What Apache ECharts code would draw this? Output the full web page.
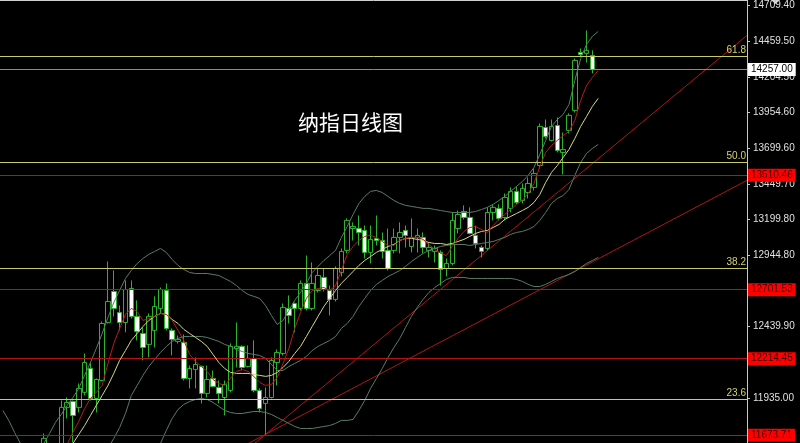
<!DOCTYPE html>
<html><head><meta charset="utf-8">
<script src="https://cdn.jsdelivr.net/npm/echarts@6/dist/echarts.min.js"></script>
<style>html,body{margin:0;padding:0;background:#000;}#c{width:800px;height:443px;}</style>
</head><body><div id="c"></div><script>
// ---- data ----
const titleText = '纳指日线图';
const slotCount = 128;
const yMin = 11618.4, yMax = 14748.2;
const yTicks = [14709.40, 14459.50, 14204.50, 13954.60, 13699.60, 13449.70, 13199.80, 12944.80, 12689.90, 12439.90, 12190.00, 11935.00];

const candleStart = 7; // [open, close, low, high]
const ohlc = [
[11530,11651,11495,11686],[11600,11540,11500,11610],[11540,11580,11480,11600],
[11495,11870,11425,11919],[11870,11905,11792,11940],[11912,11813,11622,11919],[11870,12004,11834,12039],
[11976,12187,11954,12251],[12145,11933,11919,12187],[11933,12067,11834,12074],[12060,12463,12053,12477],
[12470,12618,12463,12901],[12689,12569,12513,12837],[12541,12470,12414,12590],[12470,12703,12400,12767],
[12710,12513,12498,12767],[12513,12407,12343,12626],[12392,12293,12202,12435],[12315,12513,12223,12534],
[12414,12583,12293,12654],[12569,12703,12534,12717],[12696,12428,12414,12746],[12414,12350,12237,12428],
[12336,12350,12322,12378],[12329,12074,12060,12385],[12074,12145,12004,12166],[12138,12173,12004,12223],
[12159,11969,11898,12166],[11969,12067,11940,12166],[12074,12018,12011,12131],[12011,11969,11898,12060],
[11940,12032,11813,12060],[11990,12301,11976,12322],[12286,12301,12152,12470],[12301,12152,12131,12308],
[12159,12216,12152,12308],[12216,11990,11976,12343],[11990,11862,11834,12004],[11898,11940,11679,12011],
[11940,12202,11933,12223],[12187,12258,12025,12279],[12251,12576,12237,12604],[12569,12520,12463,12661],
[12604,12569,12400,12611],[12569,12746,12555,12767],[12746,12569,12555,12943],[12569,12746,12555,12894],
[12696,12802,12682,12852],[12788,12703,12689,12852],[12696,12633,12520,12731],[12633,12852,12618,12866],
[12823,12972,12795,12993],[12979,13191,12958,13205],[13134,13148,13049,13177],[13134,13106,13014,13226],
[13120,12965,12922,13155],[12965,13057,12887,13155],[13064,13049,13014,13226],[13049,12972,12922,13106],
[12979,12852,12837,13134],[12979,13071,12958,13134],[13071,13106,12958,13177],[13120,13085,13000,13155],
[13007,13071,12965,13205],[13071,13085,12965,13134],[13071,13000,12958,13106],[12979,13000,12929,13035],
[12972,12993,12894,13014],[12965,12844,12731,12979],[12852,12887,12795,12922],[12887,13191,12873,13247],
[13134,13233,13099,13261],[13254,13212,13198,13297],[13212,13099,13092,13283],[13085,13028,12993,13155],
[13000,12972,12929,13014],[12993,13247,12979,13283],[13247,13283,13191,13304],[13276,13205,13191,13304],
[13212,13353,13191,13381],[13276,13396,13247,13424],[13396,13318,13304,13431],[13332,13417,13311,13452],
[13388,13452,13346,13494],[13424,13523,13403,13558],[13579,13855,13558,13876],[13848,13784,13770,13904],
[13756,13855,13749,13904],[13862,13685,13671,13918],[13671,13692,13516,13812],[13827,13933,13805,13947],
[13968,14321,13954,14335],[14378,14364,14349,14406],[14371,14392,14307,14533],[14356,14257,14229,14392],
[14257,14257,14257,14257]
];

const maRedStart = 10;
const maRed = [11530,11608,11693,11771,11862,11933,11976,12025,12180,12322,
12428,12527,12569,12548,12484,12498,12513,12534,12527,12484,
12414,12343,12244,12195,12159,12124,12067,12039,12025,12074,
12124,12138,12124,12089,12046,12025,12032,12081,12180,12286,
12428,12541,12640,12696,12710,12717,12696,12731,12837,12951,
13007,13049,13078,13085,13071,13042,13014,13014,13049,13064,
13071,13071,13057,13021,12986,12958,12943,13007,13064,13113,
13141,13148,13127,13106,13155,13198,13233,13268,13304,13332,
13381,13452,13572,13671,13721,13756,13791,13820,13897,14039,
14144,14201,14250];

const maYellowStart = 11;
const maYellow = [11566,11615,11679,11742,11813,11884,11954,12025,12110,12202,
12272,12343,12392,12442,12484,12513,12534,12527,12491,12463,
12421,12392,12364,12336,12301,12244,12187,12145,12117,12110,
12110,12110,12103,12096,12089,12096,12117,12152,12195,12251,
12301,12371,12442,12513,12583,12640,12696,12746,12788,12830,
12873,12908,12936,12965,12986,13007,13021,13049,13064,13064,
13057,13049,13035,13028,13028,13021,13028,13042,13057,13078,
13099,13113,13120,13141,13162,13198,13219,13240,13261,13283,
13318,13374,13459,13530,13579,13636,13692,13770,13855,13925,
13996,14053];

const bbUpperStart = 0;
const bbUpper = [11848,11778,11693,11615,11530,11495,11530,11615,11686,11764,
11820,11884,11940,12004,12096,12187,12286,12392,12505,12611,
12696,12781,12837,12887,12922,12951,12972,12993,12965,12915,
12873,12844,12823,12816,12816,12816,12809,12802,12781,12760,
12731,12696,12668,12654,12640,12590,12520,12456,12484,12555,
12626,12682,12746,12823,12866,12908,12943,12979,13071,13148,
13233,13311,13360,13396,13403,13388,13360,13332,13311,13297,
13290,13283,13276,13276,13268,13261,13254,13247,13247,13247,
13247,13254,13268,13283,13304,13332,13360,13396,13431,13466,
13509,13565,13657,13756,13855,13904,13940,14010,14180,14335,
14434,14491,14526];

const bbMidStart = 17;
const bbMid = [11495,11580,11651,11728,11827,11954,12025,12096,12159,12209,
12258,12301,12336,12357,12371,12371,12371,12371,12364,12350,
12336,12315,12301,12279,12265,12251,12244,12237,12216,12173,
12131,12131,12159,12180,12202,12230,12272,12301,12322,12343,
12371,12428,12463,12513,12583,12640,12696,12739,12767,12795,
12816,12837,12866,12901,12929,12958,12979,12993,13007,13014,
13021,13021,13021,13014,13021,13028,13035,13042,13057,13071,
13092,13106,13113,13127,13148,13191,13247,13311,13346,13367,
13410,13509,13600,13664,13699,13728];

const bbLowerStart = 18;
const bbLower = [11071,11142,11213,11283,11354,11425,11481,11530,11580,11615,
11707,11792,11855,11891,11912,11926,11933,11926,11905,11877,
11848,11834,11827,11827,11834,11841,11841,11834,11820,11799,
11778,11757,11735,11721,11721,11721,11728,11735,11742,11757,
11778,11778,11785,11848,11919,12004,12074,12145,12223,12293,
12357,12435,12513,12576,12633,12682,12717,12746,12774,12788,
12788,12788,12781,12781,12781,12781,12781,12781,12781,12781,
12774,12760,12739,12724,12724,12739,12760,12781,12795,12809,
12830,12859,12887,12908,12929];

const fibLevels = [14349, 13600, 12852, 11926];
const fibLabels = ['61.8', '50.0', '38.2', '23.6'];
const redLevels = [13510.46, 12701.53, 12214.45, 11673.71];
const currentPrice = 14257.00;
// trend lines: [slot index, value]
const trendA = [[43, 11611], [127.5, 14498]];
const trendB = [[42, 11614], [127.5, 13474]];

// ---- build ----
const cats = Array.from({length: slotCount}, (_, i) => String(i));
function pad(start, arr) { return new Array(start).fill('-').concat(arr); }
const green = '#2ab52a';
const bandColor = '#587d66';
const yellowLine = '#c9c96a';
const redLine = '#b01616';
const font = 'Liberation Sans';

const markData = [];
fibLevels.forEach((v, i) => markData.push({
  yAxis: v, lineStyle: {color: yellowLine, width: 1, type: 'solid'},
  label: {show: true, position: 'insideEndTop', formatter: fibLabels[i], color: '#d4d46e', fontSize: 10, fontFamily: font, distance: 1}
}));
redLevels.forEach(v => markData.push({
  yAxis: v, lineStyle: {color: redLine, width: 1, type: 'solid'},
  label: {show: true, position: 'end', formatter: v.toFixed(2), color: '#3a0000', backgroundColor: '#ff0000',
          fontSize: 10, fontFamily: font, padding: [2, 3, 1, 3], distance: 1}
}));
markData.push({
  yAxis: currentPrice, lineStyle: {color: '#8a8a8a', width: 1, type: 'solid'},
  label: {show: true, position: 'end', formatter: currentPrice.toFixed(2), color: '#000', backgroundColor: '#ffffff',
          fontSize: 10, fontFamily: font, padding: [2, 3, 1, 3], distance: 1}
});

function lineSeries(start, arr, color, z) {
  return {type: 'line', xAxisIndex: 0, data: pad(start, arr), symbol: 'none', silent: true,
          lineStyle: {color: color, width: 1}, z: z};
}

const chart = echarts.init(document.getElementById('c'));
chart.setOption({
  backgroundColor: '#000',
  animation: false,
  title: {text: titleText, left: 293, top: 107,
          textStyle: {color: '#ffffff', fontSize: 21, fontWeight: 'normal', fontFamily: 'Noto Sans CJK SC'}},
  grid: {left: 0, right: 53, top: 0, bottom: 0, containLabel: false},
  xAxis: [
    {type: 'category', data: cats, boundaryGap: true, show: false},
    {type: 'value', min: -0.5, max: slotCount - 0.5, position: 'top', show: true,
     axisLine: {show: true, onZero: false, lineStyle: {color: '#d0d0d0', width: 1}}, axisTick: {show: false},
     axisLabel: {show: false}, splitLine: {show: false}}
  ],
  yAxis: {
    type: 'value', position: 'right', min: yMin, max: yMax, scale: true,
    splitLine: {show: false},
    axisLine: {show: true, onZero: false, lineStyle: {color: '#c8c8c8'}},
    axisTick: {show: true, length: 3, customValues: yTicks, lineStyle: {color: '#c8c8c8'}},
    axisLabel: {show: true, customValues: yTicks, formatter: v => Number(v).toFixed(2),
                color: '#e0e0e0', fontSize: 10, fontFamily: font, margin: 6}
  },
  graphic: [{type: 'polygon', shape: {points: [[771, 0], [780, 0], [775.5, 4]]}, style: {fill: '#c8c8c8'}}],
  series: [
    {type: 'line', xAxisIndex: 0, data: [], silent: true, z: 1,
     markLine: {silent: true, symbol: ['none', 'none'], animation: false, data: markData}},
    {type: 'line', xAxisIndex: 1, data: trendA, symbol: 'none', silent: true, lineStyle: {color: redLine, width: 1}, z: 1},
    {type: 'line', xAxisIndex: 1, data: trendB, symbol: 'none', silent: true, lineStyle: {color: redLine, width: 1}, z: 1},
    {type: 'candlestick', xAxisIndex: 0, data: pad(candleStart, ohlc), barWidth: 5, silent: true, z: 3,
     itemStyle: {color: '#000000', color0: '#ffffff', borderColor: green, borderColor0: green, borderWidth: 1}},
    lineSeries(bbUpperStart, bbUpper, bandColor, 4),
    lineSeries(bbMidStart, bbMid, bandColor, 4),
    lineSeries(bbLowerStart, bbLower, bandColor, 4),
    lineSeries(maYellowStart, maYellow, '#d8d880', 5),
    lineSeries(maRedStart, maRed, '#b81c1c', 6)
  ]
});
</script></body></html>
